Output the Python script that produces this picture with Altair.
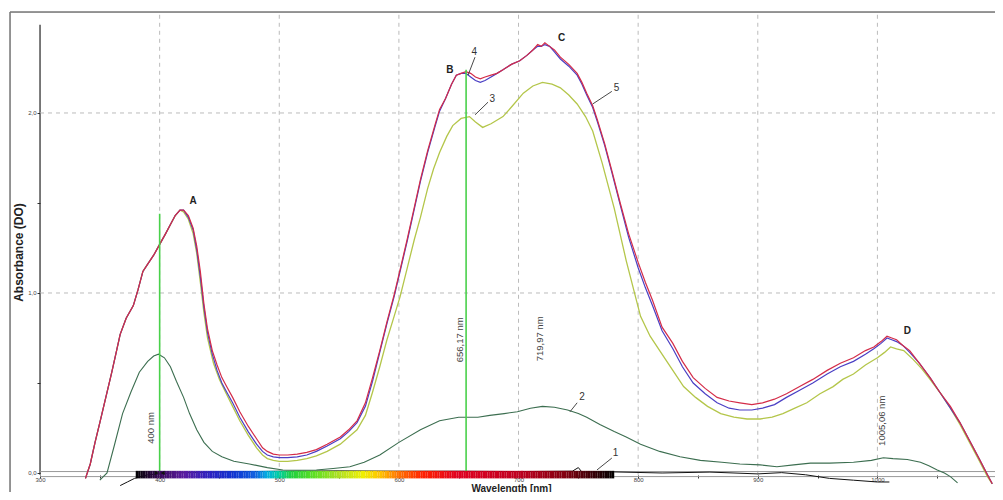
import altair as alt
import pandas as pd

XMIN, XMAX = 274.9, 1098.3
YMIN, YMAX = -0.1056, 2.561

# ---- spectra (wavelength nm, absorbance) ----
c5_x = [338, 342, 346, 350, 355, 360, 364, 367, 372, 378, 382, 386, 390, 395, 400, 405, 409, 413, 417, 420,
        424, 428, 431, 434, 437, 440, 444, 448, 452, 456, 461, 467, 474, 481, 486, 490, 495, 500, 507, 515,
        523, 531, 540, 551, 558, 565, 572, 578, 584, 590, 596, 601, 607, 613, 618, 624, 630, 634, 639, 644,
        648, 652, 656, 660, 664, 668, 672, 677, 682, 687, 694, 701, 707, 712, 716, 719, 722, 726, 730, 735,
        742, 749, 753, 757, 762, 766, 772, 778, 785, 792, 800, 806, 812, 820, 829, 837, 846, 856, 866, 876,
        885, 895, 904, 914, 924, 935, 946, 958, 969, 980, 990, 997, 1003, 1008, 1012, 1016, 1021, 1027, 1035, 1044,
        1052, 1061, 1069, 1077, 1085, 1092, 1096]
c5_y = [-0.03, 0.05, 0.17, 0.28, 0.42, 0.56, 0.68, 0.77, 0.86, 0.93, 1.02, 1.12, 1.16, 1.21, 1.27, 1.33, 1.38, 1.43, 1.46, 1.46,
        1.43, 1.36, 1.26, 1.12, 0.94, 0.80, 0.68, 0.60, 0.53, 0.48, 0.42, 0.34, 0.26, 0.19, 0.14, 0.12, 0.105, 0.10, 0.10, 0.105,
        0.115, 0.13, 0.16, 0.20, 0.24, 0.29, 0.39, 0.53, 0.68, 0.84, 0.99, 1.13, 1.30, 1.48, 1.63, 1.79, 1.93, 2.02, 2.08, 2.16,
        2.21, 2.22, 2.23, 2.22, 2.20, 2.19, 2.20, 2.21, 2.22, 2.24, 2.27, 2.29, 2.32, 2.35, 2.38, 2.37, 2.39, 2.37, 2.35, 2.31,
        2.27, 2.22, 2.17, 2.11, 2.04, 1.96, 1.83, 1.68, 1.50, 1.33, 1.17, 1.06, 0.96, 0.81, 0.72, 0.62, 0.53, 0.47, 0.42, 0.40,
        0.39, 0.38, 0.39, 0.41, 0.44, 0.48, 0.52, 0.57, 0.61, 0.64, 0.68, 0.70, 0.73, 0.76, 0.75, 0.74, 0.71, 0.68, 0.61, 0.53,
        0.45, 0.37, 0.28, 0.18, 0.08, -0.01, -0.06]

c4_x = c5_x
c4_y = [-0.03, 0.05, 0.17, 0.28, 0.42, 0.56, 0.68, 0.77, 0.86, 0.93, 1.02, 1.12, 1.16, 1.21, 1.27, 1.33, 1.38, 1.43, 1.46, 1.46,
        1.42, 1.35, 1.24, 1.09, 0.92, 0.78, 0.66, 0.57, 0.50, 0.45, 0.39, 0.31, 0.23, 0.16, 0.12, 0.10, 0.09, 0.085, 0.085, 0.09,
        0.10, 0.12, 0.15, 0.19, 0.23, 0.28, 0.37, 0.51, 0.67, 0.83, 0.98, 1.12, 1.29, 1.47, 1.62, 1.78, 1.92, 2.01, 2.08, 2.16,
        2.21, 2.22, 2.22, 2.20, 2.18, 2.17, 2.18, 2.20, 2.22, 2.24, 2.27, 2.29, 2.32, 2.35, 2.37, 2.37, 2.38, 2.37, 2.34, 2.30,
        2.26, 2.21, 2.16, 2.10, 2.03, 1.95, 1.82, 1.67, 1.49, 1.31, 1.14, 1.03, 0.93, 0.79, 0.69, 0.59, 0.50, 0.44, 0.39, 0.36,
        0.35, 0.35, 0.36, 0.38, 0.42, 0.46, 0.50, 0.55, 0.59, 0.62, 0.66, 0.69, 0.72, 0.75, 0.74, 0.73, 0.71, 0.67, 0.61, 0.53,
        0.45, 0.36, 0.28, 0.18, 0.08, -0.01, -0.06]

c3_x = [338, 342, 346, 350, 355, 360, 364, 367, 372, 378, 382, 386, 390, 395, 400, 405, 409, 413, 417, 420,
        424, 428, 431, 434, 437, 440, 445, 450, 455, 461, 467, 474, 481, 486, 490, 495, 500, 507, 515, 523,
        531, 540, 551, 558, 565, 572, 578, 584, 590, 596, 601, 607, 613, 618, 624, 629, 634, 640, 645, 652,
        659, 664, 670, 677, 687, 695, 704, 712, 720, 728, 735, 742, 749, 756, 762, 770, 780, 790, 802, 810,
        818, 828, 838, 848, 858, 869, 880, 891, 902, 912, 921, 931, 941, 952, 963, 971, 980, 990, 1000, 1006,
        1011, 1016, 1022, 1030, 1037, 1044, 1052, 1061, 1069, 1077, 1085, 1092, 1096]
c3_y = [-0.03, 0.05, 0.17, 0.28, 0.42, 0.56, 0.68, 0.77, 0.86, 0.93, 1.02, 1.12, 1.16, 1.21, 1.27, 1.33, 1.38, 1.43, 1.46, 1.45,
        1.41, 1.33, 1.22, 1.06, 0.89, 0.75, 0.61, 0.52, 0.45, 0.37, 0.29, 0.21, 0.14, 0.10, 0.08, 0.07, 0.065, 0.065, 0.07, 0.08,
        0.095, 0.12, 0.16, 0.20, 0.24, 0.32, 0.45, 0.59, 0.74, 0.87, 0.98, 1.14, 1.30, 1.42, 1.58, 1.69, 1.78, 1.87, 1.93, 1.97,
        1.98, 1.95, 1.92, 1.94, 1.98, 2.04, 2.11, 2.15, 2.17, 2.16, 2.14, 2.10, 2.05, 1.98, 1.90, 1.72, 1.47, 1.18, 0.87, 0.76,
        0.68, 0.58, 0.48, 0.42, 0.37, 0.33, 0.31, 0.30, 0.30, 0.31, 0.33, 0.36, 0.39, 0.44, 0.48, 0.52, 0.55, 0.60, 0.64, 0.67,
        0.70, 0.69, 0.68, 0.63, 0.58, 0.52, 0.45, 0.36, 0.27, 0.17, 0.07, -0.02, -0.06]

c2_x = [350, 356, 362, 369, 376, 383, 390, 395, 399, 404, 409, 414, 420, 425, 431, 437, 444, 452, 462, 475,
        490, 503, 515, 531, 545, 559, 571, 584, 600, 618, 634, 650, 657, 666, 676, 688, 699, 710, 720, 730,
        741, 750, 757, 768, 780, 790, 802, 818, 835, 852, 870, 885, 902, 916, 930, 944, 960, 980, 995, 1005,
        1013, 1025, 1036, 1043, 1050, 1056, 1061, 1067]
c2_y = [-0.04, 0.0, 0.15, 0.33, 0.45, 0.56, 0.62, 0.65, 0.66, 0.64, 0.59, 0.51, 0.42, 0.33, 0.24, 0.17, 0.12, 0.09, 0.065, 0.05,
        0.03, 0.017, 0.015, 0.017, 0.025, 0.035, 0.06, 0.10, 0.17, 0.24, 0.29, 0.31, 0.31, 0.31, 0.32, 0.33, 0.34, 0.36, 0.37, 0.365,
        0.35, 0.33, 0.31, 0.27, 0.23, 0.20, 0.16, 0.12, 0.09, 0.07, 0.06, 0.05, 0.045, 0.035, 0.045, 0.055, 0.055, 0.06, 0.07, 0.085,
        0.08, 0.075, 0.06, 0.04, 0.017, 0.0, -0.02, -0.055]

c1_x = [367, 373, 379, 390, 410, 450, 500, 550, 600, 650, 700, 745, 750, 753, 780, 820, 860, 900, 920, 940,
        960, 980, 1000, 1010]
c1_y = [-0.07, -0.05, -0.03, -0.01, 0.0, 0.005, 0.01, 0.012, 0.01, 0.01, 0.008, 0.01, 0.03, 0.005, 0.006, 0.0, 0.005, -0.005, 0.002, -0.01,
        -0.03, -0.04, -0.05, -0.05]

curve_colors = {"1": "#111111", "2": "#3c6e50", "3": "#b4c64a", "4": "#4a3fc4", "5": "#d42c48"}

# ---- annotations ----
grid_x = [400, 500, 600, 700, 800, 900, 1000]
grid_y = [1.0, 2.0]

marker_wl = [400, 656.17]
marker_top = [1.44, 2.24]

peak_text = ["A", "B", "C", "D"]
peak_x = [428, 642.7, 736, 1025]
peak_y = [1.51, 2.24, 2.415, 0.79]

num_text = ["1", "2", "3", "4", "5"]
num_x = [781, 753, 678, 663, 782]
num_y = [0.11, 0.42, 2.08, 2.34, 2.14]
lead_x1 = [778, 749, 674.5, 663.6, 778]
lead_y1 = [0.083, 0.39, 2.06, 2.31, 2.12]
lead_x2 = [765.6, 743, 663.7, 657.8, 762]
lead_y2 = [0.017, 0.34, 1.99, 2.21, 2.05]

nm_text = ["400 nm", "656,17 nm", "719,97 nm", "1005,06 nm"]
nm_x = [393, 651, 718, 1003.9]
nm_y = [0.25, 0.74, 0.745, 0.29]

spec_wl = [380, 400, 420, 440, 460, 480, 490, 500, 510, 530, 550, 570, 585, 600, 620, 650, 700, 740, 780]
spec_col = ["#000000", "#3a0a5a", "#5a1aa0", "#3020c0", "#1030d0", "#1060e0", "#00b0e0", "#00d0a0", "#20d040",
            "#60e020", "#b0e020", "#f0f000", "#ffc000", "#ff7000", "#ff2000", "#e00020", "#c00020", "#800010", "#000000"]
spec_bins = list(range(380, 780, 2))

x_ticks = [300, 350, 400, 450, 500, 550, 600, 650, 700, 750, 800, 850, 900, 950, 1000, 1050]
y_ticks = [0, 0.5, 1.0, 1.5, 2.0]

xs = alt.Scale(domain=[XMIN, XMAX], nice=False, zero=False)
ys = alt.Scale(domain=[YMIN, YMAX], nice=False, zero=False)

x_axis = alt.Axis(values=x_ticks, offset=-17, domain=False, grid=False,
                  tickSize=3, tickColor="#333", labelFontSize=6, labelColor="#444", labelPadding=-2,
                  labelExpr="datum.value % 100 == 0 ? format(datum.value, 'd') : ''",
                  labelFlush=False, title="Wavelength [nm]", titleFontSize=10, titleFontWeight="bold",
                  titleColor="#222", titlePadding=1, titleX=501)
y_axis = alt.Axis(values=y_ticks, offset=-30, domain=False, grid=False,
                  tickSize=3, tickColor="#333", labelFontSize=6, labelColor="#444", labelPadding=1,
                  labelExpr="datum.value % 1 == 0 ? replace(format(datum.value, '.1f'), '.', ',') : ''",
                  title="Absorbance (DO)", titleFontSize=12, titleFontWeight="bold", titleColor="#222",
                  titlePadding=2)


def X(f):
    return alt.X(f, type="quantitative", scale=xs, axis=x_axis)


def Y(f):
    return alt.Y(f, type="quantitative", scale=ys, axis=y_axis)


yaxis_line = alt.Chart(pd.DataFrame({"x": [300], "y1": [-0.01], "y2": [2.49]})).mark_rule(
    color="#222", strokeWidth=1.2).encode(x=X("x"), y=Y("y1"), y2="y2:Q")

frame = alt.Chart(pd.DataFrame({"x": [XMIN, XMIN], "x2": [XMIN, XMAX], "y": [YMIN, YMAX], "y2": [YMAX, YMAX]})).mark_rule(
    color="#777", strokeWidth=1.5).encode(x=X("x"), x2="x2:Q", y=Y("y"), y2="y2:Q")

vgrid = alt.Chart(pd.DataFrame({"x": grid_x, "y1": [-0.01] * len(grid_x), "y2": [2.55] * len(grid_x)})).mark_rule(
    color="#bbbbbb", strokeDash=[4, 4], strokeWidth=1).encode(x=X("x"), y=Y("y1"), y2="y2:Q")
hgrid = alt.Chart(pd.DataFrame({"y": grid_y, "x1": [300] * len(grid_y), "x2": [XMAX] * len(grid_y)})).mark_rule(
    color="#bbbbbb", strokeDash=[4, 4], strokeWidth=1).encode(y=Y("y"), x=X("x1"), x2="x2:Q")

base_lines = alt.Chart(pd.DataFrame({"y": [0.008, -0.02], "x1": [300, 300], "x2": [XMAX, XMAX]})).mark_rule(
    color="#999999", strokeWidth=1).encode(y=Y("y"), x=X("x1"), x2="x2:Q")

spec_df = pd.DataFrame({"x": spec_bins, "x2": [b + 2 for b in spec_bins],
                        "y": [-0.03] * len(spec_bins), "y2": [0.012] * len(spec_bins)})
spec_df["c"] = spec_df["x"] + 1
spectrum = alt.Chart(spec_df).mark_rect(stroke=None).encode(
    x=X("x"), x2="x2:Q", y=Y("y"), y2="y2:Q",
    color=alt.Color("c:Q", scale=alt.Scale(domain=spec_wl, range=spec_col, interpolate="rgb"), legend=None))


def curve(xv, yv, col, w=1.2):
    return alt.Chart(pd.DataFrame({"wl": xv, "a": yv})).mark_line(color=col, strokeWidth=w).encode(
        x=X("wl"), y=Y("a"), order="wl:Q")


curves = [curve(c1_x, c1_y, curve_colors["1"], 1.0),
          curve(c2_x, c2_y, curve_colors["2"], 1.1),
          curve(c3_x, c3_y, curve_colors["3"], 1.3),
          curve(c4_x, c4_y, curve_colors["4"], 1.2),
          curve(c5_x, c5_y, curve_colors["5"], 1.2)]

markers = alt.Chart(pd.DataFrame({"x": marker_wl, "y0": [0.0, 0.0], "top": marker_top})).mark_rule(
    color="#49d14a", strokeWidth=1.6).encode(x=X("x"), y=Y("y0"), y2="top:Q")

bowtie = alt.Chart(pd.DataFrame({"x": [397.5, 402.5], "y": [0.0, 0.0], "s": ["triangle-right", "triangle-left"]})).mark_point(
    filled=True, color="#111", size=22, opacity=1).encode(
    x=X("x"), y=Y("y"), shape=alt.Shape("s:N", scale=None, legend=None))

peaks = alt.Chart(pd.DataFrame({"x": peak_x, "y": peak_y, "t": peak_text})).mark_text(
    fontSize=10, fontWeight="bold", color="#222").encode(x=X("x"), y=Y("y"), text="t:N")

leaders = alt.Chart(pd.DataFrame({"x": lead_x1, "y": lead_y1, "x2": lead_x2, "y2": lead_y2})).mark_rule(
    color="#333", strokeWidth=0.9).encode(x=X("x"), y=Y("y"), x2="x2:Q", y2="y2:Q")

nums = alt.Chart(pd.DataFrame({"x": num_x, "y": num_y, "t": num_text})).mark_text(
    fontSize=10, color="#333").encode(x=X("x"), y=Y("y"), text="t:N")

nm_labels = alt.Chart(pd.DataFrame({"x": nm_x, "y": nm_y, "t": nm_text})).mark_text(
    fontSize=9.5, color="#444", angle=270).encode(x=X("x"), y=Y("y"), text="t:N")

chart = alt.layer(yaxis_line, frame, vgrid, hgrid, base_lines, *curves, markers, spectrum, bowtie,
                  leaders, peaks, nums, nm_labels).properties(
    width=985, height=480, padding={"left": 2, "top": 4, "right": 0, "bottom": 0},
    autosize=alt.AutoSizeParams(type="none")
).configure_view(stroke=None).configure(font="Liberation Sans", background="white")

chart.save("out.html", embed_options={"renderer": "svg", "actions": False})
